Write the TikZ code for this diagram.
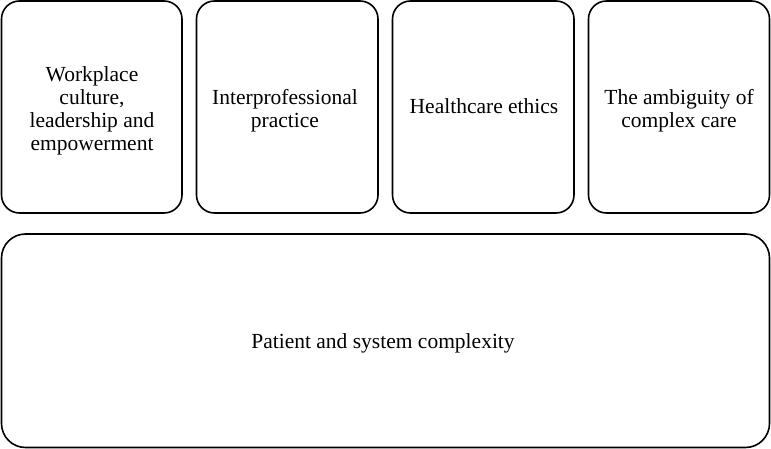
\documentclass[tikz,border=0pt]{standalone}
\usepackage{fontspec}
\setmainfont{Liberation Serif}
\begin{document}
\begin{tikzpicture}[x=1pt,y=-1pt,
  box/.style={draw=black, line width=1.6pt, rounded corners=18pt},
  lbl/.style={align=center, font=\fontsize{21.5}{23}\selectfont, inner sep=0pt}]
\useasboundingbox (0,0) rectangle (771,449);
\draw[box] (1.5,1) rectangle (182,213);
\draw[box] (196.5,1) rectangle (378,213);
\draw[box] (392.5,1) rectangle (574,213);
\draw[box] (588.5,1) rectangle (769.5,213);
\draw[box, rounded corners=24pt] (1.5,234) rectangle (769.5,447.5);
\node[lbl] (a) at (92,111) {Workplace\\culture,\\leadership and\\empowerment};
\node[lbl] (b) at (285,110.5) {Interprofessional\\practice};
\node[lbl, anchor=base] (c) at (484,114) {Healthcare ethics};
\node[lbl] (d) at (679,110.5) {The ambiguity of\\complex care};
\node[lbl, anchor=base] (e) at (383,348) {Patient and system complexity};
\end{tikzpicture}
\end{document}
